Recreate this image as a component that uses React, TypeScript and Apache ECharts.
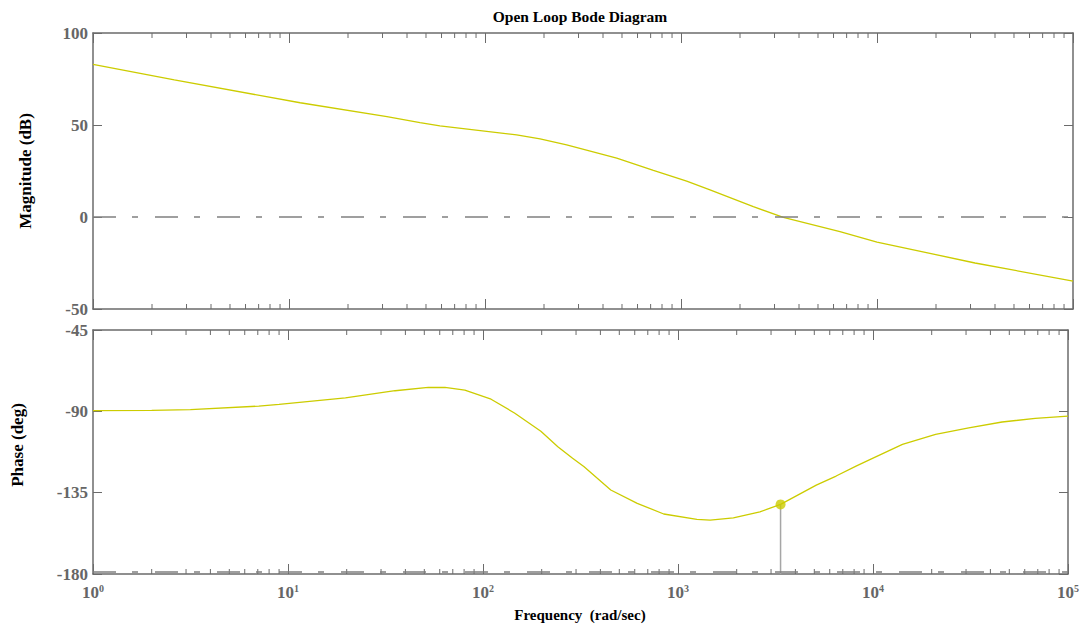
import React, { useEffect, useRef } from "react";
import * as echarts from "echarts";

// ---- data ----
const magFreq = [1, 2.6, 11.4, 31.6, 46.6, 58.9, 145, 191, 261, 470, 723, 1069, 1406, 2339, 3327, 6471, 10000, 31623, 100000];
const magDb = [83.0, 74.5, 62.1, 54.5, 51.3, 49.5, 44.6, 42.4, 39.2, 32.0, 25.4, 19.5, 14.7, 5.6, -0.2, -8.0, -13.6, -25.0, -34.8];

const phaseFreq = [1, 2, 3.16, 7.08, 9.0, 19.7, 35.4, 52.4, 63.8, 80.7, 110, 145, 198, 242, 288, 330, 452, 618, 845, 1250, 1462, 1923, 2630, 3357, 5117, 6471, 8185, 9572, 14160, 20940, 30970, 45920, 67920, 100000];
const phaseDeg = [-89.6, -89.5, -89.0, -87.1, -86.2, -82.5, -78.6, -76.8, -76.8, -78.3, -83.3, -90.9, -101.0, -109.6, -115.9, -120.7, -133.5, -140.9, -146.8, -149.8, -150.2, -149.0, -145.6, -141.5, -130.8, -125.8, -120.3, -116.9, -108.3, -102.7, -99.1, -95.9, -93.9, -92.6];

// crossover marker (phase margin point)
const markerFreq = [3357];
const markerPhase = [-141.5];

// axes
const FREQ_MIN = 1;
const FREQ_MAX = 100000;
const magRange = [-50, 100];
const magInterval = 50;
const phaseRange = [-180, -45];
const phaseInterval = 45;
const magRefLevel = [0];
const phaseRefLevel = [-179];

// log minor ticks
const decades = [1, 10, 100, 1000, 10000];
const minorMult = [2, 3, 4, 5, 6, 7, 8, 9];

const FONT = "'Liberation Serif', 'Times New Roman', serif";
const AXIS_COLOR = "#6b6b6b";
const LABEL_COLOR = "#666666";
const CURVE_COLOR = "#cccc00";

export default function App() {
  const ref = useRef<HTMLDivElement>(null);

  useEffect(() => {
    if (!ref.current) return;
    const chart = echarts.init(ref.current, null, { renderer: "svg" });

    const minorTicks: number[] = [];
    decades.forEach((d) => minorMult.forEach((m) => minorTicks.push(d * m)));

    const grids = [
      { left: 93, top: 33, width: 980, height: 276 },
      { left: 93, top: 330, width: 980, height: 244 },
    ];

    const xBase = (gridIndex: number, position: string, showLabel: boolean) => ({
      type: "log",
      logBase: 10,
      gridIndex,
      position,
      min: FREQ_MIN,
      max: FREQ_MAX,
      splitNumber: 5,
      axisLine: { show: true, onZero: false, lineStyle: { color: AXIS_COLOR, width: 1.5 } },
      axisTick: { show: true, inside: true, length: 10, lineStyle: { color: AXIS_COLOR, width: 1 } },
      splitLine: { show: false },
      axisLabel: showLabel
        ? {
            show: true,
            margin: 9,
            formatter: (v: number) => `{a|10}{b|${Math.round(Math.log10(v))}}`,
            rich: {
              a: { fontFamily: FONT, fontWeight: "bold", fontSize: 17, color: LABEL_COLOR, lineHeight: 19 },
              b: { fontFamily: FONT, fontWeight: "bold", fontSize: 10, color: LABEL_COLOR, lineHeight: 10, verticalAlign: "top" },
            },
          }
        : { show: false },
    });

    const yBase = (gridIndex: number, position: string, range: number[], interval: number, showLabel: boolean) => ({
      type: "value",
      gridIndex,
      position,
      min: range[0],
      max: range[1],
      interval,
      axisLine: { show: true, onZero: false, lineStyle: { color: AXIS_COLOR, width: 1.5 } },
      axisTick: { show: true, inside: true, length: 9, lineStyle: { color: AXIS_COLOR, width: 1 } },
      splitLine: { show: false },
      axisLabel: showLabel
        ? { show: true, margin: 5, fontFamily: FONT, fontWeight: "bold", fontSize: 17, color: LABEL_COLOR }
        : { show: false },
    });

    const minorSeries = (xAxisIndex: number, yAxisIndex: number, range: number[]) => ({
      type: "custom",
      xAxisIndex,
      yAxisIndex,
      silent: true,
      data: minorTicks.map((f) => [f, range[0]]),
      renderItem: (_p: any, api: any) => {
        const f = api.value(0);
        const pb = api.coord([f, range[0]]);
        const pt = api.coord([f, range[1]]);
        const style = { stroke: AXIS_COLOR, lineWidth: 1 };
        return {
          type: "group",
          children: [
            { type: "line", shape: { x1: pb[0], y1: pb[1], x2: pb[0], y2: pb[1] - 5 }, style },
            { type: "line", shape: { x1: pt[0], y1: pt[1], x2: pt[0], y2: pt[1] + 5 }, style },
          ],
        };
      },
    });

    const dashDot = [23, 16, 6, 17];

    chart.setOption({
      animation: false,
      backgroundColor: "#ffffff",
      grid: grids,
      xAxis: [xBase(0, "bottom", false), xBase(0, "top", false), xBase(1, "bottom", true), xBase(1, "top", false)],
      yAxis: [
        yBase(0, "left", magRange, magInterval, true),
        yBase(0, "right", magRange, magInterval, false),
        yBase(1, "left", phaseRange, phaseInterval, true),
        yBase(1, "right", phaseRange, phaseInterval, false),
      ],
      series: [
        minorSeries(0, 0, magRange),
        minorSeries(2, 2, phaseRange),
        {
          type: "line",
          xAxisIndex: 0,
          yAxisIndex: 0,
          data: magFreq.map((f, i) => [f, magDb[i]]),
          showSymbol: false,
          lineStyle: { color: CURVE_COLOR, width: 1.3 },
          markLine: {
            silent: true,
            symbol: "none",
            label: { show: false },
            lineStyle: { color: "#808080", width: 1.5, type: dashDot },
            data: magRefLevel.map((v) => ({ yAxis: v })),
          },
        },
        {
          type: "line",
          xAxisIndex: 2,
          yAxisIndex: 2,
          data: phaseFreq.map((f, i) => [f, phaseDeg[i]]),
          showSymbol: false,
          lineStyle: { color: CURVE_COLOR, width: 1.3 },
          markLine: {
            silent: true,
            symbol: "none",
            label: { show: false },
            lineStyle: { color: "#808080", width: 1.5, type: dashDot },
            data: phaseRefLevel.map((v) => ({ yAxis: v })),
          },
        },
        {
          type: "line",
          xAxisIndex: 2,
          yAxisIndex: 2,
          data: [
            [markerFreq[0], markerPhase[0]],
            [markerFreq[0], phaseRange[0]],
          ],
          showSymbol: false,
          lineStyle: { color: "#a6a6a6", width: 1.5 },
        },
        {
          type: "scatter",
          xAxisIndex: 2,
          yAxisIndex: 2,
          data: markerFreq.map((f, i) => [f, markerPhase[i]]),
          symbolSize: 10,
          itemStyle: { color: CURVE_COLOR },
          z: 5,
        },
      ],
      graphic: [
        {
          type: "text",
          x: 580,
          y: 8,
          style: { text: "Open Loop Bode Diagram", font: `bold 15.5px ${FONT}`, fill: "#000", textAlign: "center" },
        },
        {
          type: "text",
          x: 25,
          y: 171,
          rotation: Math.PI / 2,
          style: { text: "Magnitude (dB)", font: `bold 17px ${FONT}`, fill: "#000", textAlign: "center", textVerticalAlign: "middle" },
        },
        {
          type: "text",
          x: 17,
          y: 445,
          rotation: Math.PI / 2,
          style: { text: "Phase (deg)", font: `bold 17px ${FONT}`, fill: "#000", textAlign: "center", textVerticalAlign: "middle" },
        },
        {
          type: "text",
          x: 580,
          y: 607,
          style: { text: "Frequency  (rad/sec)", font: `bold 15px ${FONT}`, fill: "#000", textAlign: "center" },
        },
      ],
    });

    return () => chart.dispose();
  }, []);

  return <div ref={ref} style={{ position: "absolute", left: 0, top: 0, width: 1082, height: 628 }} />;
}
